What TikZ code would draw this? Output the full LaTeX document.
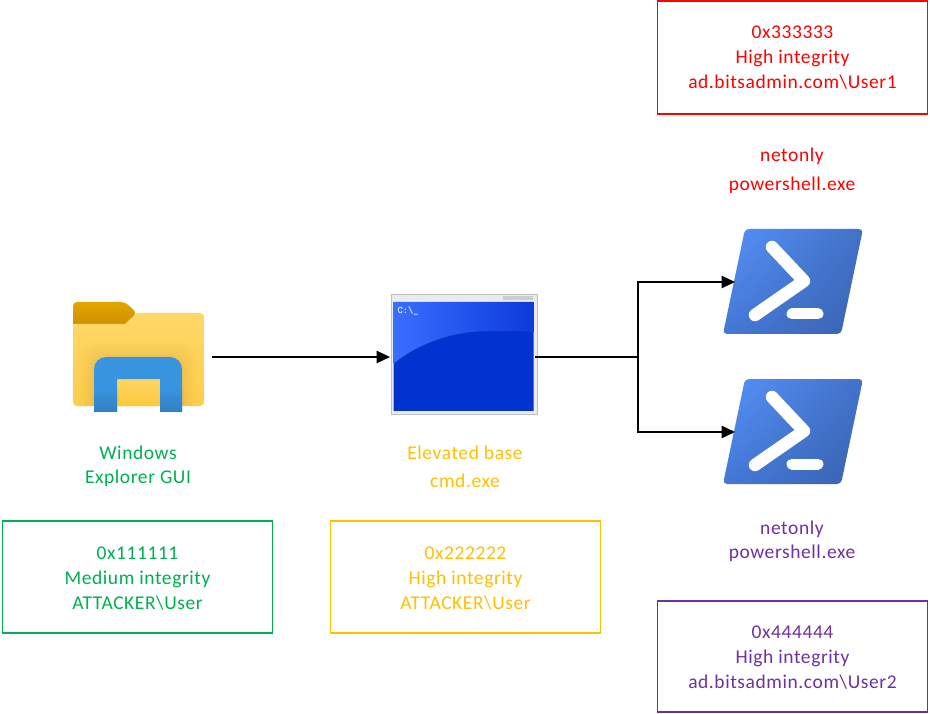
\documentclass[tikz,border=0pt]{standalone}
\usepackage{fontspec}
\setmainfont[LetterSpace=3]{Carlito}
\usetikzlibrary{arrows.meta,calc,shadings}
\definecolor{cgreen}{HTML}{00B050}
\definecolor{cyellow}{HTML}{FFC000}
\definecolor{cred}{HTML}{FF0000}
\definecolor{cpurple}{HTML}{7030A0}
\definecolor{psul}{RGB}{86,146,250}
\definecolor{psur}{RGB}{66,114,200}
\definecolor{psll}{RGB}{68,120,214}
\definecolor{pslr}{RGB}{56,98,176}
\definecolor{foldertabtop}{RGB}{226,166,0}
\definecolor{foldertabbot}{RGB}{204,136,0}
\definecolor{foldertop}{RGB}{255,217,107}
\definecolor{folderbot}{RGB}{253,205,75}
\definecolor{archinner}{RGB}{252,200,60}
\definecolor{archblue}{RGB}{56,148,222}
\definecolor{archdark}{RGB}{50,128,196}
\definecolor{cmdframe}{RGB}{234,236,236}
\definecolor{cmdedge}{RGB}{190,190,190}
\definecolor{cmdbtn}{RGB}{205,205,205}
\definecolor{cmdlow}{RGB}{2,50,208}
\definecolor{cmdhi}{RGB}{58,110,255}
\definecolor{cmdhr}{RGB}{12,58,220}
\tikzset{
  x=1pt,y=-1pt,
  infobox/.style={draw=#1,text=#1,line width=1.2pt,minimum width=270pt,inner sep=0pt,align=center,
     font=\fontsize{19.5}{25}\selectfont},
  captext/.style 2 args={text=#1,inner sep=0pt,align=center,font=\fontsize{19.5}{#2}\selectfont},
  iconbox/.style={minimum width=#1,inner sep=0pt,outer sep=0pt},
  link/.style={line width=1.2pt,black},
  arrowlink/.style={link,-{Triangle[length=13.5pt,width=12.5pt]}},
}
\newcommand{\psicon}[1]{%
  \begin{scope}[yshift=#1]
    \begin{scope}
      \clip[rounded corners=4pt] (745,229) -- (863,229) -- (841,334) -- (723,334) -- cycle;
      \shade[shading=bilinear interpolation,upper left=psul,lower right=pslr,upper right=psur,lower left=psll]
        (723,229) rectangle (863,334);
    \end{scope}
    \draw[white,line width=12.5pt,line cap=round,line join=round] (772,247) -- (804,281) -- (755,315);
    \draw[white,line width=11pt,line cap=round] (792,314) -- (818,314);
  \end{scope}}
\begin{document}
\begin{tikzpicture}
\useasboundingbox (0,0) rectangle (930,714);
\fill[white] (0,0) rectangle (930,714);

% folder icon
\shade[rounded corners=4pt,top color=foldertabtop,bottom color=foldertabbot]
  (73,330) -- (73,302) -- (125,302) -- (137,313) -- (125,324) -- (125,330) -- cycle;
\begin{scope}
  \clip (73,324) -- (125,324) -- (137,313) [rounded corners=4pt] -- (204,313) -- (204,406) -- (73,406) [sharp corners] -- cycle;
  \shade[top color=foldertop,bottom color=folderbot] (73,302) rectangle (204,406);
  \foreach \g in {2,4,...,14}
    \fill[black,opacity=.008,rounded corners=14pt] (94-\g,357-\g) rectangle (182+\g,420);
  \shade[top color=foldertop!80!archinner,bottom color=archinner] (117,379) rectangle (160,406);
\end{scope}
\fill[archblue]
  (94,411) [rounded corners=12pt] -- (94,357) -- (182,357) [sharp corners] -- (182,411) -- (160,411) -- (160,379) -- (117,379) -- (117,411) -- cycle;
\shade[top color=archblue,bottom color=archdark] (94,390) rectangle (117,411);
\shade[top color=archblue,bottom color=archdark] (160,390) rectangle (182,411);
\node[iconbox=132pt,minimum height=110pt] (explorer) at (138,357) {};

% cmd icon
\filldraw[fill=cmdframe,draw=cmdedge,line width=.6pt] (391,294) rectangle (537,414);
\fill[cmdbtn] (503,296) rectangle (533,300);
\begin{scope}
  \clip (393.5,302) rectangle (533.5,411);
  \fill[cmdlow] (393,302) rectangle (534,411);
  \shade[left color=cmdhi,right color=cmdhr]
    (393,364) .. controls (420,342) and (455,331) .. (490,331) .. controls (505,331) and (520,331) .. (534,332) -- (534,302) -- (393,302) -- cycle;
\end{scope}
\node[text=white,inner sep=0pt,font=\fontsize{10}{10}\ttfamily\bfseries] (prompt) at (408,311) {C:\textbackslash\_};
\node[iconbox=146pt,minimum height=120pt] (cmd) at (464,354) {};

% powershell icons
\psicon{0}
\psicon{-150}
\node[iconbox=140pt,minimum height=105pt] (ps1) at (793,281.5) {};
\node[iconbox=140pt,minimum height=105pt] (ps2) at (793,431.5) {};

% connectors
\coordinate (start) at (212,357);
\coordinate (cmdin) at (390,357);
\coordinate (cmdout) at (535,357);
\coordinate (split) at (638,357);
\coordinate (in1) at (735,282);
\coordinate (in2) at (735,432);
\draw[arrowlink] (start) -- (cmdin);
\draw[link] (cmdout) -- (split);
\draw[arrowlink] (split) |- (in1);
\draw[arrowlink] (split) |- (in2);

% captions
\node[captext={cgreen}{24}] (lblexplorer) at (138,466.5) {Windows\\Explorer GUI};
\node[captext={cyellow}{28}] (lblcmd) at (465,467) {Elevated base\\cmd.exe};
\node[captext={cred}{29}] (lblred) at (792,171) {netonly\\powershell.exe};
\node[captext={cpurple}{24}] (lblpurple) at (792,541.5) {netonly\\powershell.exe};

% boxes
\node[infobox=cgreen,minimum height=112pt] (boxgreen) at (137.5,577) {\rule{0pt}{15pt}0x111111\\Medium integrity\\ATTACKER\textbackslash User};
\node[infobox=cyellow,minimum height=112pt] (boxyellow) at (465.5,577) {\rule{0pt}{15pt}0x222222\\High integrity\\ATTACKER\textbackslash User};
\node[infobox=cred,minimum height=113pt] (boxred) at (792.5,57.5) {0x333333\\High integrity\\ad.bitsadmin.com\textbackslash User1};
\node[infobox=cpurple,minimum height=111pt] (boxpurple) at (792.5,656.5) {\rule{0pt}{15pt}0x444444\\High integrity\\ad.bitsadmin.com\textbackslash User2};
\end{tikzpicture}
\end{document}
